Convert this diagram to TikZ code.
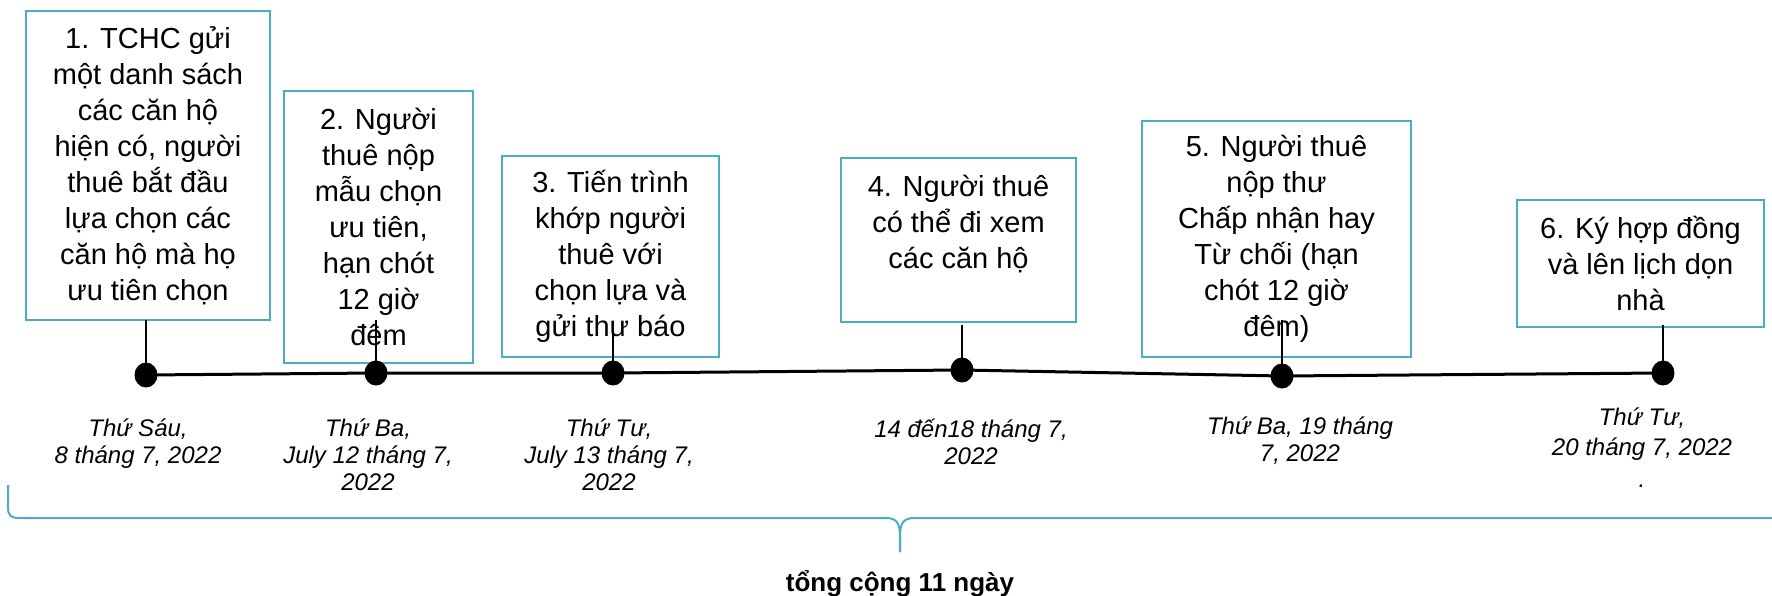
\documentclass[tikz,border=0pt]{standalone}
\usepackage{fontspec}
\setmainfont{Liberation Sans}
\usetikzlibrary{shapes.geometric}
\definecolor{boxcyan}{HTML}{4BACC6}
\tikzset{
  box/.style={draw=boxcyan, line width=2pt, inner sep=0pt, outer sep=0pt, align=center,
    font=\fontsize{29}{36}\selectfont},
  dot/.style={ellipse, fill=black, minimum width=23pt, minimum height=25pt, inner sep=0pt},
  stem/.style={line width=2pt, black},
  timeline/.style={line width=3pt, black},
  datetext/.style={align=center, inner sep=0pt, anchor=north,
    font=\fontsize{24}{27}\selectfont\itshape},
  brace/.style={draw=boxcyan, line width=2pt},
  total/.style={font=\fontsize{26}{30}\selectfont\bfseries, anchor=base, inner sep=0pt}
}
\begin{document}
\begin{tikzpicture}[x=1pt, y=-1pt]
\useasboundingbox (0,0) rectangle (1772,596);

% boxes
\node[box, minimum width=244pt, minimum height=309pt] (b1) at (148,165.5)
  {1. TCHC gửi\\một danh sách\\các căn hộ\\hiện có, người\\thuê bắt đầu\\lựa chọn các\\căn hộ mà họ\\ưu tiên chọn};
\node[box, minimum width=189pt, minimum height=272pt] (b2) at (378.5,227)
  {2. Người\\thuê nộp\\mẫu chọn\\ưu tiên,\\hạn chót\\12 giờ\\đêm};
\node[box, minimum width=217pt, minimum height=201pt] (b3) at (610.5,256.5)
  {3. Tiến trình\\khớp người\\thuê với\\chọn lựa và\\gửi thư báo};
\node[box, minimum width=235pt, minimum height=164pt] (b4) at (958.5,240)
  {4. Người thuê\\có thể đi xem\\các căn hộ\\\mbox{}};
\node[box, minimum width=269pt, minimum height=236pt] (b5) at (1276.5,239)
  {5. Người thuê\\nộp thư\\Chấp nhận hay\\Từ chối (hạn\\chót 12 giờ\\đêm)};
\node[box, minimum width=247pt, minimum height=127pt] (b6) at (1640.5,263.5)
  {6. Ký hợp đồng\\và lên lịch dọn\\nhà};

% timeline points
\coordinate (p1) at (146,375);
\coordinate (p2) at (376,373);
\coordinate (p3) at (613,373);
\coordinate (p4) at (962,370);
\coordinate (p5) at (1282,376);
\coordinate (p6) at (1663,373);

% stem tops
\coordinate (s1) at (146,320);
\coordinate (s2) at (376,320);
\coordinate (s3) at (613,333);
\coordinate (s4) at (962,325);
\coordinate (s5) at (1282,320);
\coordinate (s6) at (1663,325);

\draw[timeline] (p1) -- (p2) -- (p3) -- (p4) -- (p5) -- (p6);
\foreach \i in {1,...,6} { \draw[stem] (s\i) -- (p\i); }

\node[dot] (d1) at (p1) {};
\node[dot] (d2) at (p2) {};
\node[dot] (d3) at (p3) {};
\node[dot] (d4) at (p4) {};
\node[dot] (d5) at (p5) {};
\node[dot] (d6) at (p6) {};

% dates
\node[datetext] (t1) at (138,419) {Thứ Sáu,\\8 tháng 7, 2022};
\node[datetext] (t2) at (368,419) {Thứ Ba,\\July 12 tháng 7,\\2022};
\node[datetext] (t3) at (609,419) {Thứ Tư,\\July 13 tháng 7,\\2022};
\node[datetext] (t4) at (971,419) {14 đến18 tháng 7,\\2022};
\node[datetext] (t5) at (1300,417) {Thứ Ba, 19 tháng\\7, 2022};
\node[datetext, font=\fontsize{24}{30}\selectfont\itshape] (t6) at (1642,408) {Thứ Tư,\\20 tháng 7, 2022\\[2pt].};

% brace
\coordinate (bl) at (8,485);
\coordinate (bt) at (900,552);
\coordinate (br) at (1790,518);
\draw[brace] (bl) -- (8,506) .. controls (8,516) and (10,518) .. (20,518) -- (886,518)
  .. controls (897,518) and (900,524) .. (900,536) -- (bt);
\draw[brace] (bt) -- (900,536) .. controls (900,524) and (903,518) .. (914,518) -- (br);

\node[total] (tot) at (900,591) {tổng cộng 11 ngày};
\end{tikzpicture}
\end{document}
